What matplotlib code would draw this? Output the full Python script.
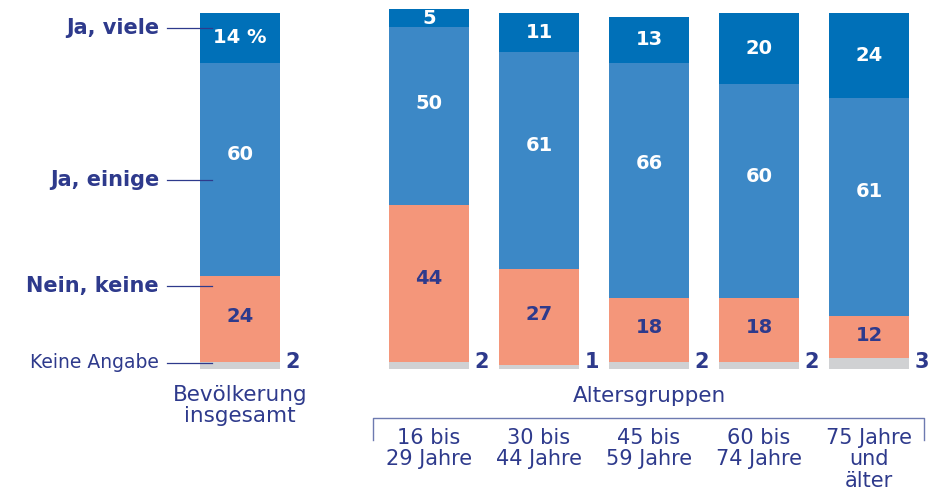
import matplotlib.pyplot as plt
import numpy as np

# data (percent)
groups = ['Bevölkerung\ninsgesamt', '16 bis\n29 Jahre', '30 bis\n44 Jahre',
          '45 bis\n59 Jahre', '60 bis\n74 Jahre', '75 Jahre\nund\nälter']
keine_angabe = [2, 2, 1, 2, 2, 3]
nein_keine = [24, 44, 27, 18, 18, 12]
ja_einige = [60, 50, 61, 66, 60, 61]
ja_viele = [14, 5, 11, 13, 20, 24]

series_names = ['Keine Angabe', 'Nein, keine', 'Ja, einige', 'Ja, viele']
colors = ['#d0d1d3', '#f4967a', '#3c88c6', '#0070b8']
navy = '#2e3a8c'

# layout: x in pixel-like units
xpos = np.array([240, 429, 539, 649, 759, 869])
width = 80

plt.rcParams['font.family'] = ['DejaVu Sans']

fig = plt.figure(figsize=(9.3, 4.95), dpi=100)
ax = fig.add_axes([0, 0, 1, 1])
ax.set_xlim(0, 930)
ax.set_ylim(-35.4, 103.65)
ax.axis('off')

data = [keine_angabe, nein_keine, ja_einige, ja_viele]
bottom = np.zeros(len(groups))
for k, (vals, col) in enumerate(zip(data, colors)):
    vals = np.array(vals, dtype=float)
    ax.bar(xpos, vals, width=width, bottom=bottom, color=col, linewidth=0)
    for i, v in enumerate(vals):
        if k == 0:
            ax.text(xpos[i] + width / 2 + 13, bottom[i] + 2.0, f'{int(v)}', ha='center',
                    va='center', color=navy, fontsize=15, fontweight='bold')
        elif k == 1:
            ax.text(xpos[i], bottom[i] + v * 0.53, f'{int(v)}', ha='center',
                    va='center', color=navy, fontsize=14, fontweight='bold')
        elif k == 2:
            ax.text(xpos[i], bottom[i] + v * 0.57, f'{int(v)}', ha='center',
                    va='center', color='white', fontsize=14, fontweight='bold')
        else:
            lab = f'{int(v)} %' if i == 0 else f'{int(v)}'
            ax.text(xpos[i], bottom[i] + v * 0.5, lab, ha='center',
                    va='center', color='white', fontsize=14, fontweight='bold')
    bottom += vals

# series labels on the left, connected to first bar
label_vals = [(369 - 363) / 3.56, (369 - 286) / 3.56, (369 - 180) / 3.56, (369 - 28) / 3.56]
for k, name in enumerate(series_names):
    y = label_vals[k]
    if k == 0:
        ax.text(159, y, name, ha='right', va='center', color=navy, fontsize=13.5)
    else:
        ax.text(159, y, name, ha='right', va='center', color=navy, fontsize=15,
                fontweight='bold')
    ax.plot([167, 212], [y, y], color=navy, lw=0.9)

# category labels
ax.text(xpos[0], (369 - 385) / 3.56, groups[0], ha='center', va='top', color=navy,
        fontsize=15.5, linespacing=1.08)
ax.text(649, (369 - 396) / 3.56, 'Altersgruppen', ha='center', va='center',
        color=navy, fontsize=15.5)
yb = (369 - 418) / 3.56
yb2 = (369 - 440) / 3.56
ax.plot([373, 373, 924, 924], [yb2, yb, yb, yb2], color='#6d7ab0', lw=1)
for i in range(1, len(groups)):
    ax.text(xpos[i], (369 - 428) / 3.56, groups[i], ha='center', va='top',
            color=navy, fontsize=15, linespacing=1.08)

fig.savefig('out.png', dpi=100)
